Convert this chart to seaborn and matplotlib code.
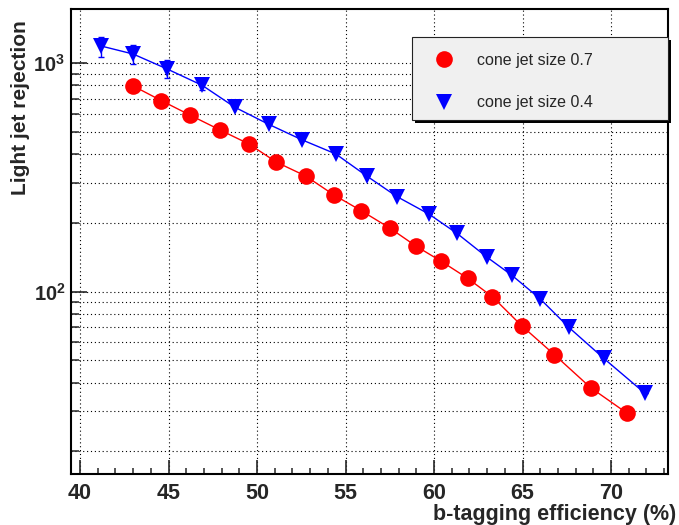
import numpy as np
import pandas as pd
import matplotlib
matplotlib.use("Agg")
import matplotlib.pyplot as plt
import seaborn as sns
from matplotlib.ticker import FixedLocator, FuncFormatter, LogLocator, MultipleLocator, NullFormatter
from matplotlib.lines import Line2D
from matplotlib.patches import Rectangle

# ---------------- data ----------------
red_label = "cone jet size 0.7"
blue_label = "cone jet size 0.4"
red_eff = [43.0, 44.6, 46.2, 47.9, 49.55, 51.1, 52.75, 54.35, 55.9, 57.5, 59.0, 60.4, 61.9, 63.3, 64.95, 66.8, 68.85, 70.9]
red_rej = [796, 686, 594, 511, 443, 369, 321, 265, 226, 190, 158, 136, 114.5, 95, 71, 53, 38, 29.4]
blue_eff = [41.2, 43.0, 44.9, 46.9, 48.75, 50.65, 52.55, 54.45, 56.2, 57.9, 59.7, 61.3, 63.0, 64.4, 66.0, 67.6, 69.6, 71.9]
blue_rej = [1190, 1098, 946, 801, 642, 541, 462, 401, 321, 261, 219, 180, 141.5, 118, 93, 70, 51, 36]
blue_err = [120, 110, 88, 40, 0, 0, 0, 0, 0, 0, 0, 0, 0, 0, 0, 0, 0, 0]
x_ticks = [40, 45, 50, 55, 60, 65, 70]
x_label = "b-tagging efficiency (%)"
y_label = "Light jet rejection"

red_df = pd.DataFrame({"eff": red_eff, "rej": red_rej})
blue_df = pd.DataFrame({"eff": blue_eff, "rej": blue_rej, "err": blue_err})

# ---------------- style ----------------
sns.set_theme(style="white")
plt.rcParams["font.family"] = ["Liberation Sans", "DejaVu Sans"]
plt.rcParams["mathtext.fontset"] = "custom"
plt.rcParams["mathtext.bf"] = "Liberation Sans:bold"
plt.rcParams["mathtext.rm"] = "Liberation Sans"
plt.rcParams["mathtext.it"] = "Liberation Sans:italic"

W, H = 679, 525
fig = plt.figure(figsize=(W / 100, H / 100), dpi=100)
fig.patch.set_facecolor("white")
ax_l, ax_r, ax_t, ax_b = 71, 668, 8.7, 474.3
ax = fig.add_axes([ax_l / W, 1 - ax_b / H, (ax_r - ax_l) / W, (ax_b - ax_t) / H])
ax.set_facecolor("white")

RED = "#ff0000"
BLUE = "#0000ff"

# error bars (blue), drawn below markers
ax.errorbar(blue_df["eff"], blue_df["rej"], yerr=blue_df["err"], fmt="none",
            ecolor=BLUE, elinewidth=1, capsize=2, capthick=1, zorder=2)

sns.lineplot(data=red_df, x="eff", y="rej", ax=ax, color=RED, lw=1, marker="o",
             markersize=12, markeredgewidth=0, markerfacecolor=RED, sort=False, zorder=3)
sns.lineplot(data=blue_df, x="eff", y="rej", ax=ax, color=BLUE, lw=1, marker="v",
             markersize=11.5, markeredgewidth=0, markerfacecolor=BLUE, sort=False, zorder=3)

ax.set_yscale("log")
ax.set_xlim(39.49, 73.22)
ax.set_ylim(15.87, 1734)

# ticks
ax.xaxis.set_major_locator(FixedLocator(x_ticks))
ax.xaxis.set_minor_locator(MultipleLocator(1))
ax.yaxis.set_major_locator(LogLocator(base=10, numticks=10))
ax.yaxis.set_minor_locator(LogLocator(base=10, subs=np.arange(2, 10), numticks=20))
ax.yaxis.set_minor_formatter(NullFormatter())
ax.yaxis.set_major_formatter(FuncFormatter(lambda v, p: r"$\mathbf{10^{%d}}$" % int(round(np.log10(v)))))
ax.xaxis.set_major_formatter(FuncFormatter(lambda v, p: "%d" % v))

ax.tick_params(axis="x", which="major", direction="in", length=10, width=1.2,
               labelsize=15.5, pad=6, bottom=True, top=False)
ax.tick_params(axis="x", which="minor", direction="in", length=4.3, width=1.1, bottom=True, top=False)
ax.tick_params(axis="y", which="major", direction="in", length=11.5, width=1.2,
               labelsize=14.5, pad=4, left=True, right=False)
ax.tick_params(axis="y", which="minor", direction="in", length=6, width=1.1, left=True, right=False)
for lab in ax.get_xticklabels():
    lab.set_fontweight("bold")

for s in ax.spines.values():
    s.set_color("black")
    s.set_linewidth(1.5)

# grid
ax.grid(True, which="major", axis="x", color="black", linestyle=(0, (1, 2.5)), linewidth=0.8)
ax.grid(True, which="both", axis="y", color="black", linestyle=(0, (1, 2.5)), linewidth=0.8)
ax.set_axisbelow(True)

ax.set_xlabel("")
ax.set_ylabel("")
fig.text(676 / W, 1 - 520 / H, x_label, ha="right", va="baseline",
         fontsize=15.5, fontweight="bold")
fig.text(21 / W, 1 - 20 / H, y_label, ha="center", va="top", rotation=90,
         fontsize=15, fontweight="bold")

# legend box with shadow
bx0, bx1, by0, by1 = 412, 668, 37.3, 120
shadow = Rectangle(((bx0 + 3) / W, 1 - (by1 + 3) / H), (bx1 - bx0) / W, (by1 - by0) / H,
                   transform=fig.transFigure, facecolor="black", edgecolor="none", zorder=5)
box = Rectangle((bx0 / W, 1 - by1 / H), (bx1 - bx0) / W, (by1 - by0) / H,
                transform=fig.transFigure, facecolor="#f0f0f0", edgecolor="#222222",
                linewidth=0.8, zorder=6)
fig.patches.extend([shadow, box])

handles = [
    Line2D([], [], color=RED, marker="o", linestyle="none", markersize=12, markeredgewidth=0),
    Line2D([], [], color=BLUE, marker="v", linestyle="none", markersize=11.5, markeredgewidth=0),
]
leg = fig.legend(handles, [red_label, blue_label], loc="upper left",
                 bbox_to_anchor=(436 / W, 1 - 53 / H), frameon=False, fontsize=11.5,
                 handlelength=1.0, handletextpad=1.54, borderpad=0, labelspacing=1.72,
                 borderaxespad=0)
leg.set_zorder(7)

fig.savefig("out.png", dpi=100, facecolor="white")
